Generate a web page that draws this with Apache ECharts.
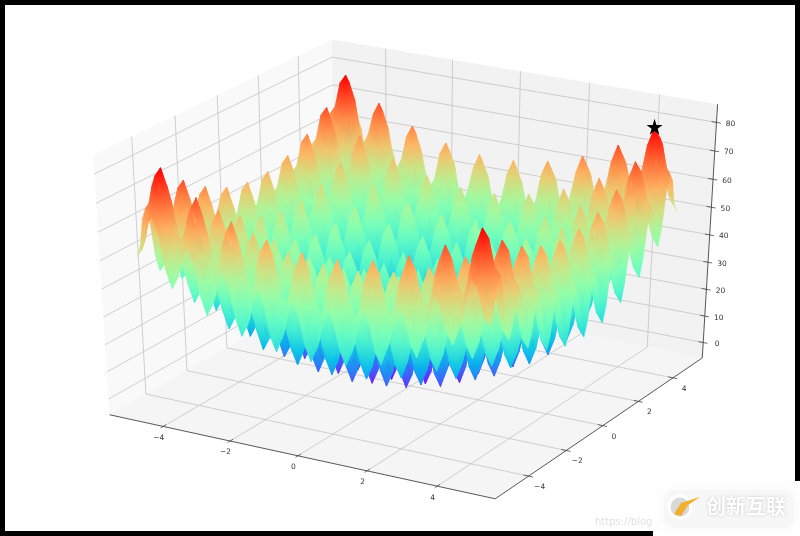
<!DOCTYPE html>
<html><head><meta charset="utf-8">
<style>html,body{margin:0;padding:0;background:#000}#c{width:800px;height:536px}</style>
<script src="https://cdn.jsdelivr.net/npm/echarts@6/dist/echarts.min.js"></script>
</head><body><div id="c"></div>
<script>
// Surface samples, x and y from -5 to 0 in steps of 1/6 (the surface is mirror-symmetric about x=0 and y=0)
const sampleAxis=[-5,-4.8333,-4.6667,-4.5,-4.3333,-4.1667,-4,-3.8333,-3.6667,-3.5,-3.3333,-3.1667,-3,-2.8333,-2.6667,-2.5,-2.3333,-2.1667,-2,-1.8333,-1.6667,-1.5,-1.3333,-1.1667,-1,-0.8333,-0.6667,-0.5,-0.3333,-0.1667,0];
const zQuadrant=[
[50,53,62,65,59,47,41,45,53,57,51,40,34,38,47,51,45,35,29,33,43,47,42,31,26,31,40,45,40,30,25],
[53,56,65,68,62,50,44,48,56,60,54,43,37,41,50,54,48,38,32,36,46,50,45,34,29,34,43,48,43,33,28],
[62,65,74,77,71,59,53,57,65,69,63,52,46,50,59,63,57,47,41,45,55,59,54,43,38,43,52,57,52,42,37],
[65,68,77,80,74,62,56,60,68,72,66,55,49,53,62,66,60,50,44,48,58,62,57,46,41,46,55,60,55,45,40],
[59,62,71,74,68,56,50,54,62,66,60,49,43,47,56,60,54,44,38,42,52,56,51,40,35,40,49,54,49,39,34],
[47,50,59,62,56,44,38,42,50,54,48,37,31,35,44,48,42,32,26,30,40,44,39,28,23,28,37,42,37,27,22],
[41,44,53,56,50,38,32,36,44,48,42,31,25,29,38,42,36,26,20,24,34,38,33,22,17,22,31,36,31,21,16],
[45,48,57,60,54,42,36,40,48,52,46,35,29,33,42,46,40,30,24,28,38,42,37,26,21,26,35,40,35,25,20],
[53,56,65,68,62,50,44,48,56,60,54,43,37,41,50,54,48,38,32,36,46,50,45,34,29,34,43,48,43,33,28],
[57,60,69,72,66,54,48,52,60,64,58,47,41,45,54,58,52,42,36,40,50,54,49,38,33,38,47,52,47,37,32],
[51,54,63,66,60,48,42,46,54,58,52,41,35,39,48,52,46,36,30,34,44,48,43,32,27,32,41,46,41,31,26],
[40,43,52,55,49,37,31,35,43,47,41,30,24,28,37,41,35,25,19,23,33,37,32,21,16,21,30,35,30,20,15],
[34,37,46,49,43,31,25,29,37,41,35,24,18,22,31,35,29,19,13,17,27,31,26,15,10,15,24,29,24,14,9],
[38,41,50,53,47,35,29,33,41,45,39,28,22,26,35,39,33,23,17,21,31,35,30,19,14,19,28,33,28,18,13],
[47,50,59,62,56,44,38,42,50,54,48,37,31,35,44,48,42,32,26,30,40,44,39,28,23,28,37,42,37,27,22],
[51,54,63,66,60,48,42,46,54,58,52,41,35,39,48,52,46,36,30,34,44,48,43,32,27,32,41,46,41,31,26],
[45,48,57,60,54,42,36,40,48,52,46,35,29,33,42,46,40,30,24,28,38,42,37,26,21,26,35,40,35,25,20],
[35,38,47,50,44,32,26,30,38,42,36,25,19,23,32,36,30,20,14,18,28,32,27,16,11,16,25,30,25,15,10],
[29,32,41,44,38,26,20,24,32,36,30,19,13,17,26,30,24,14,8,12,22,26,21,10,5,10,19,24,19,9,4],
[33,36,45,48,42,30,24,28,36,40,34,23,17,21,30,34,28,18,12,16,26,30,25,14,9,14,23,28,23,13,8],
[43,46,55,58,52,40,34,38,46,50,44,33,27,31,40,44,38,28,22,26,36,40,35,24,19,24,33,38,33,23,18],
[47,50,59,62,56,44,38,42,50,54,48,37,31,35,44,48,42,32,26,30,40,44,39,28,23,28,37,42,37,27,22],
[42,45,54,57,51,39,33,37,45,49,43,32,26,30,39,43,37,27,21,25,35,39,34,23,18,23,32,37,32,22,17],
[31,34,43,46,40,28,22,26,34,38,32,21,15,19,28,32,26,16,10,14,24,28,23,12,7,12,21,26,21,11,6],
[26,29,38,41,35,23,17,21,29,33,27,16,10,14,23,27,21,11,5,9,19,23,18,7,2,7,16,21,16,6,1],
[31,34,43,46,40,28,22,26,34,38,32,21,15,19,28,32,26,16,10,14,24,28,23,12,7,12,21,26,21,11,6],
[40,43,52,55,49,37,31,35,43,47,41,30,24,28,37,41,35,25,19,23,33,37,32,21,16,21,30,35,30,20,15],
[45,48,57,60,54,42,36,40,48,52,46,35,29,33,42,46,40,30,24,28,38,42,37,26,21,26,35,40,35,25,20],
[40,43,52,55,49,37,31,35,43,47,41,30,24,28,37,41,35,25,19,23,33,37,32,21,16,21,30,35,30,20,15],
[30,33,42,45,39,27,21,25,33,37,31,20,14,18,27,31,25,15,9,13,23,27,22,11,6,11,20,25,20,10,5],
[25,28,37,40,34,22,16,20,28,32,26,15,9,13,22,26,20,10,4,8,18,22,17,6,1,6,15,20,15,5,0]];
const xTicks=[-4,-2,0,2,4];
const yTicks=[-4,-2,0,2,4];
const zTicks=[0,10,20,30,40,50,60,70,80];
const starPoint=[4.5,4.5,80.5];
const zColorMax=80;

// 3D axis limits, pane bounds
const lim={x:[-5.4,5.4],y:[-5.5,5.5],z:[-4.02,84.5]};
const B={x0:-5.63,x1:5.63,y0:-5.73,y1:5.73,z0:-5.87,z1:86.3};
const n=[0.4330127,-0.75,0.5],u=[0.8660254,0.5,0],v=[-0.25,0.4330127,0.8660254];
function proj(x,y,z){
  const a=(x-lim.x[0])/(lim.x[1]-lim.x[0])-.5,b=(y-lim.y[0])/(lim.y[1]-lim.y[0])-.5,c=(z-lim.z[0])/(lim.z[1]-lim.z[0])-.5;
  const w=10-(n[0]*a+n[1]*b+n[2]*c);
  return [(u[0]*a+u[1]*b)/w,(v[0]*a+v[1]*b+v[2]*c)/w,w];
}
function rainbow(t){t=Math.max(0,Math.min(1,t));
  const r=Math.min(1,Math.abs(2*t-.5)),g=Math.sin(Math.PI*t),b=Math.cos(Math.PI*t/2);
  return 'rgb('+Math.round(r*255)+','+Math.round(g*255)+','+Math.round(b*255)+')';}

const L=sampleAxis.length-1;
const fullAxis=sampleAxis.concat(sampleAxis.slice(0,L).reverse().map(a=>-a));
const mirror=i=>i<=L?i:2*L-i;
const zAt=(i,j)=>zQuadrant[mirror(j)][mirror(i)];
const faces=[];
for(let j=0;j<2*L;j++)for(let i=0;i<2*L;i++){
  const xm=(fullAxis[i]+fullAxis[i+1])/2,ym=(fullAxis[j]+fullAxis[j+1])/2;
  const zm=(zAt(i,j)+zAt(i+1,j)+zAt(i,j+1)+zAt(i+1,j+1))/4;
  faces.push({i,j,d:proj(xm,ym,zm)[2]});
}
faces.sort((p,q)=>q.d-p.d);
const faceData=faces.map(f=>[f.i,f.j]);

// scaffold lines: [x1,y1,z1,x2,y2,z2,kind]
const segs=[];
xTicks.forEach(t=>{segs.push([t,B.y0,B.z0,t,B.y1,B.z0,0],[t,B.y1,B.z0,t,B.y1,B.z1,0]);});
yTicks.forEach(t=>{segs.push([B.x1,t,B.z0,B.x0,t,B.z0,0],[B.x0,t,B.z0,B.x0,t,B.z1,0]);});
zTicks.forEach(t=>{segs.push([B.x0,B.y0,t,B.x0,B.y1,t,0],[B.x0,B.y1,t,B.x1,B.y1,t,0]);});
segs.push([B.x0,B.y0,B.z0,B.x1,B.y0,B.z0,1],[B.x1,B.y0,B.z0,B.x1,B.y1,B.z0,1],[B.x1,B.y1,B.z0,B.x1,B.y1,B.z1,1]);
xTicks.forEach(t=>segs.push([t,B.y0-.12,B.z0,t,B.y0+.14,B.z0,2]));
yTicks.forEach(t=>segs.push([B.x1+.12,t,B.z0,B.x1-.14,t,B.z0,2]));
zTicks.forEach(t=>segs.push([B.x1-.14,B.y1,t,B.x1+.12,B.y1,t,2]));
const panes=[
 [[B.x0,B.y0,B.z0],[B.x0,B.y1,B.z0],[B.x0,B.y1,B.z1],[B.x0,B.y0,B.z1],'#f9f9f9'],
 [[B.x0,B.y1,B.z0],[B.x1,B.y1,B.z0],[B.x1,B.y1,B.z1],[B.x0,B.y1,B.z1],'#f2f2f2'],
 [[B.x0,B.y0,B.z0],[B.x1,B.y0,B.z0],[B.x1,B.y1,B.z0],[B.x0,B.y1,B.z0],'#f5f5f5']];
const tickLabels=[];
xTicks.forEach(t=>tickLabels.push([t,B.y0,B.z0,-4.5,11.5,t]));
yTicks.forEach(t=>tickLabels.push([B.x1,t,B.z0,11,11,t]));
zTicks.forEach(t=>tickLabels.push([B.x1,B.y1,t,14,1.5,t]));

const chart=echarts.init(document.getElementById('c'),null,{renderer:'canvas'});
const P=(api,p)=>{const q=proj(p[0],p[1],p[2]);return api.coord([q[0],q[1]]);};
const sp=proj(starPoint[0],starPoint[1],starPoint[2]);
chart.setOption({
 animation:false,backgroundColor:'#000',
 grid:{left:5,right:5,top:5,bottom:5,containLabel:false},
 xAxis:{type:'value',min:-0.095,max:0.09,show:false},
 yAxis:{type:'value',min:-0.095,max:0.09,show:false},
 tooltip:{show:false},
 graphic:{elements:[
  {type:'rect',z:-10,shape:{x:5,y:5,width:790,height:526},style:{fill:'#fff'}},
  {type:'rect',z:100,shape:{x:653,y:481,width:147,height:55},style:{fill:'#fff'}},
  {type:'rect',z:100,shape:{x:664,y:490,width:130,height:38,r:10},style:{fill:'#f7f7f7',shadowBlur:8,shadowColor:'#f7f7f7'}},
  {type:'circle',z:101,shape:{cx:680,cy:507,r:11},style:{fill:'#d9d9d9',stroke:'#fff',lineWidth:3}},
  {type:'polygon',z:102,shape:{points:[[674,514],[681,503],[700,497],[688,505],[681,516]]},style:{fill:'#f2ae2c'}},
  {type:'text',z:101,x:706,y:496,style:{text:'创新互联',fill:'#fff',font:'bold 20px "Noto Sans CJK SC"',textShadowColor:'#c8c8c8',textShadowBlur:3}},
  {type:'text',z:99,x:595,y:517,style:{text:'https://blog',fill:'#e2e2e2',font:'10px "DejaVu Sans"'}}
 ]},
 series:[
  {type:'custom',coordinateSystem:'cartesian2d',silent:true,z:2,data:panes.map((_,k)=>[k]),
   renderItem(p,api){const f=panes[api.value(0)];
     return {type:'polygon',shape:{points:f.slice(0,4).map(c=>P(api,c))},style:{fill:f[4]}};}},
  {type:'custom',coordinateSystem:'cartesian2d',silent:true,z:3,data:segs,
   renderItem(p,api){const a=P(api,[api.value(0),api.value(1),api.value(2)]),b=P(api,[api.value(3),api.value(4),api.value(5)]);
     const k=api.value(6);
     return {type:'line',shape:{x1:a[0],y1:a[1],x2:b[0],y2:b[1]},style:{stroke:k==0?'#c4c4c4':'#444',lineWidth:k==1?0.9:0.8}};}},
  {type:'custom',coordinateSystem:'cartesian2d',silent:true,z:4,data:tickLabels,
   renderItem(p,api){const a=P(api,[api.value(0),api.value(1),api.value(2)]);
     const t=api.value(5);
     return {type:'text',x:a[0]+api.value(3),y:a[1]+api.value(4),style:{text:String(t).replace('-','\u2212'),fill:'#333',font:'7.5px "DejaVu Sans"',align:'center',verticalAlign:'middle'}};}},
  {type:'custom',coordinateSystem:'cartesian2d',silent:true,z:5,progressive:0,data:faceData,
   renderItem(p,api){const i=api.value(0),j=api.value(1);
     const vs=[[i,j],[i+1,j],[i+1,j+1],[i,j+1]].map(c=>{const z=zAt(c[0],c[1]);return {z,q:P(api,[fullAxis[c[0]],fullAxis[c[1]],z])};});
     let lo=vs[0],hi=vs[0];vs.forEach(w=>{if(w.z<lo.z)lo=w;if(w.z>hi.z)hi=w;});
     const fill={type:'linear',global:true,x:lo.q[0],y:lo.q[1],x2:hi.q[0],y2:hi.q[1]+0.01,colorStops:[0,.5,1].map(o=>({offset:o,color:rainbow((lo.z+(hi.z-lo.z)*o)/zColorMax)}))};
     return {type:'polygon',shape:{points:vs.map(w=>w.q)},style:{fill,stroke:fill,lineWidth:.5}};}},
  {type:'scatter',z:6,silent:true,symbol:'path://M50 0 L61 35 L98 35 L68 57 L79 92 L50 70 L21 92 L32 57 L2 35 L39 35 Z',symbolSize:16,itemStyle:{color:'#000',opacity:1},data:[[sp[0],sp[1]]]}
 ]
});
</script></body></html>
